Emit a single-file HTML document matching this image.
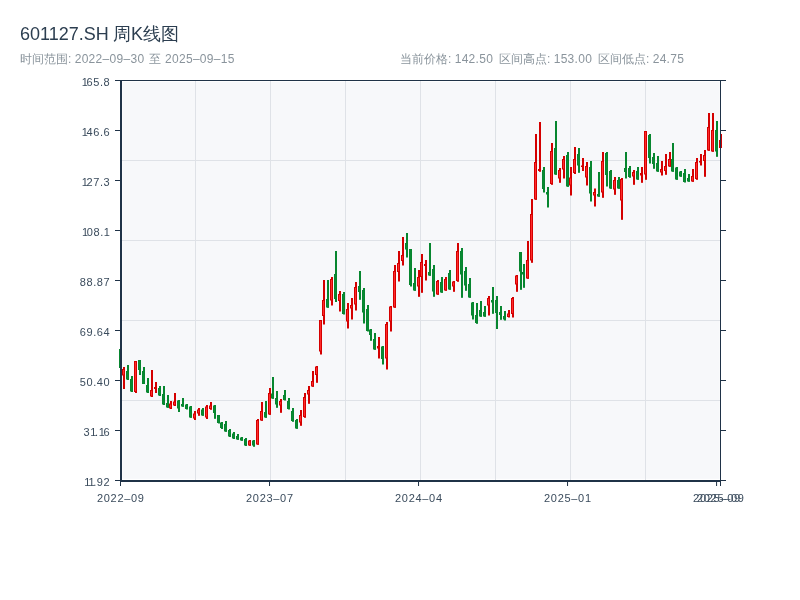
<!DOCTYPE html>
<html><head><meta charset="utf-8">
<style>
html,body{margin:0;padding:0;background:#ffffff;width:800px;height:600px;overflow:hidden;}
body{position:relative;font-family:"Liberation Sans",sans-serif;}
.t{position:absolute;white-space:nowrap;will-change:transform;}
.tt{font-size:18px;color:#2c3e50;line-height:22px;}
.st{font-size:12px;color:#8a949c;line-height:15px;}
.n{letter-spacing:0.3px;}
svg{position:absolute;left:0;top:0;will-change:transform;}
.tl{font-family:"Liberation Sans",sans-serif;font-size:11px;fill:#3a4b5c;}
</style></head><body>
<div class="t tt" style="left:20px;top:22.7px">601127.SH</div>
<div class="t tt" style="left:112.5px;top:22.7px">周K线图</div>
<div class="t st" style="left:20px;top:52px">时间范围: <span class="n">2022–09–30</span></div>
<div class="t st" style="left:149px;top:52px">至</div>
<div class="t st" style="left:165px;top:52px"><span class="n">2025–09–15</span></div>
<div class="t st" style="left:400px;top:52px">当前价格: <span class="n">142.50</span></div>
<div class="t st" style="left:499px;top:52px">区间高点: <span class="n">153.00</span></div>
<div class="t st" style="left:598px;top:52px">区间低点: <span class="n">24.75</span></div>
<svg width="800" height="600" viewBox="0 0 800 600">
<rect x="122.5" y="81.8" width="597.2" height="397" fill="#f7f8fa"/>
<line x1="195.5" y1="81" x2="195.5" y2="480" stroke="#dfe2e7" stroke-width="1"/>
<line x1="270.5" y1="81" x2="270.5" y2="480" stroke="#dfe2e7" stroke-width="1"/>
<line x1="345.5" y1="81" x2="345.5" y2="480" stroke="#dfe2e7" stroke-width="1"/>
<line x1="420.5" y1="81" x2="420.5" y2="480" stroke="#dfe2e7" stroke-width="1"/>
<line x1="495.5" y1="81" x2="495.5" y2="480" stroke="#dfe2e7" stroke-width="1"/>
<line x1="570.5" y1="81" x2="570.5" y2="480" stroke="#dfe2e7" stroke-width="1"/>
<line x1="645.5" y1="81" x2="645.5" y2="480" stroke="#dfe2e7" stroke-width="1"/>
<line x1="121" y1="160.5" x2="720" y2="160.5" stroke="#dfe2e7" stroke-width="1"/>
<line x1="121" y1="240.5" x2="720" y2="240.5" stroke="#dfe2e7" stroke-width="1"/>
<line x1="121" y1="320.5" x2="720" y2="320.5" stroke="#dfe2e7" stroke-width="1"/>
<line x1="121" y1="400.5" x2="720" y2="400.5" stroke="#dfe2e7" stroke-width="1"/>
<rect x="120" y="349.0" width="2" height="19.00" fill="#07862f"/>
<rect x="119" y="349.0" width="3" height="19.00" fill="#07862f"/>
<rect x="120" y="350.0" width="1" height="17.00" fill="#0a8a33"/>
<rect x="123" y="367.0" width="2" height="22.00" fill="#d40000"/>
<rect x="122" y="369.0" width="3" height="6.50" fill="#d40000"/>
<rect x="123" y="370.0" width="1" height="4.50" fill="#ff2b2b"/>
<rect x="127" y="365.0" width="2" height="15.00" fill="#07862f"/>
<rect x="126" y="371.0" width="3" height="8.50" fill="#07862f"/>
<rect x="127" y="372.0" width="1" height="6.50" fill="#0a8a33"/>
<rect x="131" y="376.0" width="2" height="16.00" fill="#07862f"/>
<rect x="130" y="379.0" width="3" height="12.50" fill="#07862f"/>
<rect x="131" y="380.0" width="1" height="10.50" fill="#0a8a33"/>
<rect x="135" y="361.0" width="2" height="32.00" fill="#d40000"/>
<rect x="134" y="361.0" width="3" height="31.00" fill="#d40000"/>
<rect x="135" y="362.0" width="1" height="29.00" fill="#ff2b2b"/>
<rect x="139" y="360.0" width="2" height="15.00" fill="#07862f"/>
<rect x="138" y="360.0" width="3" height="10.00" fill="#07862f"/>
<rect x="139" y="361.0" width="1" height="8.00" fill="#0a8a33"/>
<rect x="143" y="367.0" width="2" height="17.00" fill="#07862f"/>
<rect x="142" y="371.0" width="3" height="13.00" fill="#07862f"/>
<rect x="143" y="372.0" width="1" height="11.00" fill="#0a8a33"/>
<rect x="147" y="378.0" width="2" height="15.00" fill="#07862f"/>
<rect x="146" y="385.0" width="3" height="7.50" fill="#07862f"/>
<rect x="147" y="386.0" width="1" height="5.50" fill="#0a8a33"/>
<rect x="151" y="370.0" width="2" height="27.00" fill="#d40000"/>
<rect x="150" y="390.0" width="3" height="6.50" fill="#d40000"/>
<rect x="151" y="391.0" width="1" height="4.50" fill="#ff2b2b"/>
<rect x="155" y="382.0" width="2" height="11.00" fill="#d40000"/>
<rect x="154" y="387.0" width="3" height="2.00" fill="#d40000"/>
<rect x="159" y="386.0" width="2" height="10.00" fill="#07862f"/>
<rect x="158" y="388.0" width="3" height="7.50" fill="#07862f"/>
<rect x="159" y="389.0" width="1" height="5.50" fill="#0a8a33"/>
<rect x="163" y="386.0" width="2" height="19.00" fill="#07862f"/>
<rect x="162" y="394.0" width="3" height="10.50" fill="#07862f"/>
<rect x="163" y="395.0" width="1" height="8.50" fill="#0a8a33"/>
<rect x="167" y="395.0" width="2" height="12.80" fill="#07862f"/>
<rect x="166" y="403.0" width="3" height="4.50" fill="#07862f"/>
<rect x="167" y="404.0" width="1" height="2.50" fill="#0a8a33"/>
<rect x="170" y="401.0" width="2" height="8.00" fill="#d40000"/>
<rect x="169" y="403.5" width="3" height="5.00" fill="#d40000"/>
<rect x="170" y="404.5" width="1" height="3.00" fill="#ff2b2b"/>
<rect x="174" y="393.0" width="2" height="13.00" fill="#d40000"/>
<rect x="173" y="401.5" width="3" height="4.00" fill="#d40000"/>
<rect x="174" y="402.5" width="1" height="2.00" fill="#ff2b2b"/>
<rect x="178" y="400.0" width="2" height="12.00" fill="#07862f"/>
<rect x="177" y="400.5" width="3" height="8.00" fill="#07862f"/>
<rect x="178" y="401.5" width="1" height="6.00" fill="#0a8a33"/>
<rect x="182" y="398.0" width="2" height="8.80" fill="#07862f"/>
<rect x="181" y="404.0" width="3" height="2.50" fill="#07862f"/>
<rect x="186" y="404.0" width="2" height="5.50" fill="#07862f"/>
<rect x="185" y="404.5" width="3" height="4.50" fill="#07862f"/>
<rect x="186" y="405.5" width="1" height="2.50" fill="#0a8a33"/>
<rect x="190" y="406.0" width="2" height="11.80" fill="#07862f"/>
<rect x="189" y="406.5" width="3" height="11.00" fill="#07862f"/>
<rect x="190" y="407.5" width="1" height="9.00" fill="#0a8a33"/>
<rect x="194" y="411.0" width="2" height="9.00" fill="#d40000"/>
<rect x="193" y="413.5" width="3" height="5.00" fill="#d40000"/>
<rect x="194" y="414.5" width="1" height="3.00" fill="#ff2b2b"/>
<rect x="198" y="408.0" width="2" height="7.80" fill="#d40000"/>
<rect x="197" y="409.5" width="3" height="4.00" fill="#d40000"/>
<rect x="198" y="410.5" width="1" height="2.00" fill="#ff2b2b"/>
<rect x="202" y="408.0" width="2" height="7.80" fill="#07862f"/>
<rect x="201" y="409.5" width="3" height="6.00" fill="#07862f"/>
<rect x="202" y="410.5" width="1" height="4.00" fill="#0a8a33"/>
<rect x="206" y="405.0" width="2" height="14.00" fill="#d40000"/>
<rect x="205" y="406.5" width="3" height="11.00" fill="#d40000"/>
<rect x="206" y="407.5" width="1" height="9.00" fill="#ff2b2b"/>
<rect x="210" y="402.0" width="2" height="7.80" fill="#d40000"/>
<rect x="209" y="405.5" width="3" height="3.50" fill="#d40000"/>
<rect x="210" y="406.5" width="1" height="1.50" fill="#ff2b2b"/>
<rect x="214" y="405.0" width="2" height="13.80" fill="#07862f"/>
<rect x="213" y="405.5" width="3" height="7.50" fill="#07862f"/>
<rect x="214" y="406.5" width="1" height="5.50" fill="#0a8a33"/>
<rect x="218" y="415.0" width="2" height="8.50" fill="#07862f"/>
<rect x="217" y="415.0" width="3" height="8.00" fill="#07862f"/>
<rect x="218" y="416.0" width="1" height="6.00" fill="#0a8a33"/>
<rect x="221" y="422.0" width="2" height="7.00" fill="#07862f"/>
<rect x="220" y="422.5" width="3" height="5.50" fill="#07862f"/>
<rect x="221" y="423.5" width="1" height="3.50" fill="#0a8a33"/>
<rect x="225" y="421.0" width="2" height="10.80" fill="#07862f"/>
<rect x="224" y="424.0" width="3" height="7.50" fill="#07862f"/>
<rect x="225" y="425.0" width="1" height="5.50" fill="#0a8a33"/>
<rect x="229" y="429.0" width="2" height="8.00" fill="#07862f"/>
<rect x="228" y="430.0" width="3" height="6.50" fill="#07862f"/>
<rect x="229" y="431.0" width="1" height="4.50" fill="#0a8a33"/>
<rect x="233" y="432.0" width="2" height="7.00" fill="#07862f"/>
<rect x="232" y="433.5" width="3" height="5.00" fill="#07862f"/>
<rect x="233" y="434.5" width="1" height="3.00" fill="#0a8a33"/>
<rect x="237" y="434.0" width="2" height="5.80" fill="#07862f"/>
<rect x="236" y="436.0" width="3" height="3.50" fill="#07862f"/>
<rect x="237" y="437.0" width="1" height="1.50" fill="#0a8a33"/>
<rect x="241" y="437.0" width="2" height="3.80" fill="#07862f"/>
<rect x="240" y="437.5" width="3" height="3.00" fill="#07862f"/>
<rect x="241" y="438.5" width="1" height="1.00" fill="#0a8a33"/>
<rect x="245" y="438.0" width="2" height="8.00" fill="#07862f"/>
<rect x="244" y="439.0" width="3" height="6.50" fill="#07862f"/>
<rect x="245" y="440.0" width="1" height="4.50" fill="#0a8a33"/>
<rect x="249" y="440.0" width="2" height="5.80" fill="#d40000"/>
<rect x="248" y="440.5" width="3" height="5.00" fill="#d40000"/>
<rect x="249" y="441.5" width="1" height="3.00" fill="#ff2b2b"/>
<rect x="253" y="440.0" width="2" height="6.80" fill="#07862f"/>
<rect x="252" y="440.5" width="3" height="5.00" fill="#07862f"/>
<rect x="253" y="441.5" width="1" height="3.00" fill="#0a8a33"/>
<rect x="257" y="419.0" width="2" height="25.80" fill="#d40000"/>
<rect x="256" y="420.0" width="3" height="24.50" fill="#d40000"/>
<rect x="257" y="421.0" width="1" height="22.50" fill="#ff2b2b"/>
<rect x="261" y="402.0" width="2" height="18.80" fill="#d40000"/>
<rect x="260" y="411.0" width="3" height="9.50" fill="#d40000"/>
<rect x="261" y="412.0" width="1" height="7.50" fill="#ff2b2b"/>
<rect x="265" y="401.0" width="2" height="16.80" fill="#07862f"/>
<rect x="264" y="412.0" width="3" height="5.50" fill="#07862f"/>
<rect x="265" y="413.0" width="1" height="3.50" fill="#0a8a33"/>
<rect x="269" y="388.0" width="2" height="26.80" fill="#d40000"/>
<rect x="268" y="393.0" width="3" height="21.50" fill="#d40000"/>
<rect x="269" y="394.0" width="1" height="19.50" fill="#ff2b2b"/>
<rect x="272" y="377.0" width="2" height="21.80" fill="#07862f"/>
<rect x="271" y="393.5" width="3" height="5.00" fill="#07862f"/>
<rect x="272" y="394.5" width="1" height="3.00" fill="#0a8a33"/>
<rect x="276" y="391.0" width="2" height="16.80" fill="#07862f"/>
<rect x="275" y="398.0" width="3" height="6.50" fill="#07862f"/>
<rect x="276" y="399.0" width="1" height="4.50" fill="#0a8a33"/>
<rect x="280" y="399.0" width="2" height="13.80" fill="#d40000"/>
<rect x="279" y="401.0" width="3" height="4.50" fill="#d40000"/>
<rect x="280" y="402.0" width="1" height="2.50" fill="#ff2b2b"/>
<rect x="284" y="390.0" width="2" height="10.50" fill="#07862f"/>
<rect x="283" y="395.0" width="3" height="5.00" fill="#07862f"/>
<rect x="284" y="396.0" width="1" height="3.00" fill="#0a8a33"/>
<rect x="288" y="398.0" width="2" height="11.50" fill="#07862f"/>
<rect x="287" y="401.0" width="3" height="8.00" fill="#07862f"/>
<rect x="288" y="402.0" width="1" height="6.00" fill="#0a8a33"/>
<rect x="292" y="408.0" width="2" height="13.80" fill="#07862f"/>
<rect x="291" y="411.0" width="3" height="10.00" fill="#07862f"/>
<rect x="292" y="412.0" width="1" height="8.00" fill="#0a8a33"/>
<rect x="296" y="419.0" width="2" height="9.80" fill="#07862f"/>
<rect x="295" y="420.0" width="3" height="8.50" fill="#07862f"/>
<rect x="296" y="421.0" width="1" height="6.50" fill="#0a8a33"/>
<rect x="300" y="410.0" width="2" height="15.80" fill="#d40000"/>
<rect x="299" y="415.0" width="3" height="7.50" fill="#d40000"/>
<rect x="300" y="416.0" width="1" height="5.50" fill="#ff2b2b"/>
<rect x="304" y="393.0" width="2" height="24.80" fill="#d40000"/>
<rect x="303" y="397.0" width="3" height="20.00" fill="#d40000"/>
<rect x="304" y="398.0" width="1" height="18.00" fill="#ff2b2b"/>
<rect x="308" y="386.0" width="2" height="17.80" fill="#d40000"/>
<rect x="307" y="390.0" width="3" height="4.50" fill="#d40000"/>
<rect x="308" y="391.0" width="1" height="2.50" fill="#ff2b2b"/>
<rect x="312" y="371.0" width="2" height="15.80" fill="#d40000"/>
<rect x="311" y="381.0" width="3" height="5.50" fill="#d40000"/>
<rect x="312" y="382.0" width="1" height="3.50" fill="#ff2b2b"/>
<rect x="316" y="366.0" width="2" height="16.80" fill="#d40000"/>
<rect x="315" y="366.5" width="3" height="8.50" fill="#d40000"/>
<rect x="316" y="367.5" width="1" height="6.50" fill="#ff2b2b"/>
<rect x="320" y="320.0" width="2" height="34.50" fill="#d40000"/>
<rect x="319" y="320.0" width="3" height="31.50" fill="#d40000"/>
<rect x="320" y="321.0" width="1" height="29.50" fill="#ff2b2b"/>
<rect x="323" y="280.0" width="2" height="44.50" fill="#d40000"/>
<rect x="322" y="300.0" width="3" height="16.00" fill="#d40000"/>
<rect x="323" y="301.0" width="1" height="14.00" fill="#ff2b2b"/>
<rect x="327" y="280.0" width="2" height="27.80" fill="#07862f"/>
<rect x="326" y="299.0" width="3" height="8.50" fill="#07862f"/>
<rect x="327" y="300.0" width="1" height="6.50" fill="#0a8a33"/>
<rect x="331" y="277.0" width="2" height="28.50" fill="#d40000"/>
<rect x="330" y="279.0" width="3" height="21.50" fill="#d40000"/>
<rect x="331" y="280.0" width="1" height="19.50" fill="#ff2b2b"/>
<rect x="335" y="251.0" width="2" height="51.00" fill="#07862f"/>
<rect x="334" y="274.0" width="3" height="25.00" fill="#07862f"/>
<rect x="335" y="275.0" width="1" height="23.00" fill="#0a8a33"/>
<rect x="339" y="291.0" width="2" height="20.50" fill="#d40000"/>
<rect x="338" y="294.0" width="3" height="7.00" fill="#d40000"/>
<rect x="339" y="295.0" width="1" height="5.00" fill="#ff2b2b"/>
<rect x="343" y="292.0" width="2" height="22.50" fill="#07862f"/>
<rect x="342" y="294.0" width="3" height="20.00" fill="#07862f"/>
<rect x="343" y="295.0" width="1" height="18.00" fill="#0a8a33"/>
<rect x="347" y="303.0" width="2" height="25.50" fill="#d40000"/>
<rect x="346" y="309.0" width="3" height="12.50" fill="#d40000"/>
<rect x="347" y="310.0" width="1" height="10.50" fill="#ff2b2b"/>
<rect x="351" y="298.0" width="2" height="21.50" fill="#d40000"/>
<rect x="350" y="305.0" width="3" height="3.50" fill="#d40000"/>
<rect x="351" y="306.0" width="1" height="1.50" fill="#ff2b2b"/>
<rect x="355" y="282.0" width="2" height="28.50" fill="#d40000"/>
<rect x="354" y="287.0" width="3" height="17.50" fill="#d40000"/>
<rect x="355" y="288.0" width="1" height="15.50" fill="#ff2b2b"/>
<rect x="359" y="271.0" width="2" height="28.80" fill="#07862f"/>
<rect x="358" y="286.0" width="3" height="6.00" fill="#07862f"/>
<rect x="359" y="287.0" width="1" height="4.00" fill="#0a8a33"/>
<rect x="363" y="288.0" width="2" height="35.50" fill="#07862f"/>
<rect x="362" y="290.0" width="3" height="22.50" fill="#07862f"/>
<rect x="363" y="291.0" width="1" height="20.50" fill="#0a8a33"/>
<rect x="367" y="305.0" width="2" height="26.50" fill="#07862f"/>
<rect x="366" y="309.0" width="3" height="22.00" fill="#07862f"/>
<rect x="367" y="310.0" width="1" height="20.00" fill="#0a8a33"/>
<rect x="370" y="329.0" width="2" height="11.80" fill="#07862f"/>
<rect x="369" y="329.5" width="3" height="5.50" fill="#07862f"/>
<rect x="370" y="330.5" width="1" height="3.50" fill="#0a8a33"/>
<rect x="374" y="333.0" width="2" height="16.80" fill="#07862f"/>
<rect x="373" y="339.0" width="3" height="10.50" fill="#07862f"/>
<rect x="374" y="340.0" width="1" height="8.50" fill="#0a8a33"/>
<rect x="378" y="337.0" width="2" height="21.50" fill="#d40000"/>
<rect x="377" y="346.0" width="3" height="2.50" fill="#d40000"/>
<rect x="382" y="346.0" width="2" height="18.50" fill="#07862f"/>
<rect x="381" y="346.5" width="3" height="12.50" fill="#07862f"/>
<rect x="382" y="347.5" width="1" height="10.50" fill="#0a8a33"/>
<rect x="386" y="322.0" width="2" height="47.50" fill="#d40000"/>
<rect x="385" y="324.0" width="3" height="34.50" fill="#d40000"/>
<rect x="386" y="325.0" width="1" height="32.50" fill="#ff2b2b"/>
<rect x="390" y="306.0" width="2" height="25.50" fill="#d40000"/>
<rect x="389" y="306.5" width="3" height="15.00" fill="#d40000"/>
<rect x="390" y="307.5" width="1" height="13.00" fill="#ff2b2b"/>
<rect x="394" y="265.0" width="2" height="42.80" fill="#d40000"/>
<rect x="393" y="271.0" width="3" height="36.50" fill="#d40000"/>
<rect x="394" y="272.0" width="1" height="34.50" fill="#ff2b2b"/>
<rect x="398" y="251.0" width="2" height="30.50" fill="#d40000"/>
<rect x="397" y="263.0" width="3" height="9.00" fill="#d40000"/>
<rect x="398" y="264.0" width="1" height="7.00" fill="#ff2b2b"/>
<rect x="402" y="237.0" width="2" height="28.50" fill="#d40000"/>
<rect x="401" y="255.0" width="3" height="6.00" fill="#d40000"/>
<rect x="402" y="256.0" width="1" height="4.00" fill="#ff2b2b"/>
<rect x="406" y="233.0" width="2" height="24.50" fill="#07862f"/>
<rect x="405" y="243.0" width="3" height="6.50" fill="#07862f"/>
<rect x="406" y="244.0" width="1" height="4.50" fill="#0a8a33"/>
<rect x="410" y="249.0" width="2" height="37.50" fill="#07862f"/>
<rect x="409" y="249.0" width="3" height="36.00" fill="#07862f"/>
<rect x="410" y="250.0" width="1" height="34.00" fill="#0a8a33"/>
<rect x="414" y="268.0" width="2" height="22.80" fill="#07862f"/>
<rect x="413" y="283.0" width="3" height="7.50" fill="#07862f"/>
<rect x="414" y="284.0" width="1" height="5.50" fill="#0a8a33"/>
<rect x="418" y="270.0" width="2" height="26.80" fill="#d40000"/>
<rect x="417" y="277.0" width="3" height="9.50" fill="#d40000"/>
<rect x="418" y="278.0" width="1" height="7.50" fill="#ff2b2b"/>
<rect x="421" y="254.0" width="2" height="38.80" fill="#d40000"/>
<rect x="420" y="262.0" width="3" height="15.00" fill="#d40000"/>
<rect x="421" y="263.0" width="1" height="13.00" fill="#ff2b2b"/>
<rect x="425" y="260.0" width="2" height="20.50" fill="#d40000"/>
<rect x="424" y="264.0" width="3" height="2.00" fill="#d40000"/>
<rect x="429" y="243.0" width="2" height="32.80" fill="#07862f"/>
<rect x="428" y="272.0" width="3" height="3.50" fill="#07862f"/>
<rect x="429" y="273.0" width="1" height="1.50" fill="#0a8a33"/>
<rect x="433" y="265.0" width="2" height="31.80" fill="#07862f"/>
<rect x="432" y="269.0" width="3" height="22.50" fill="#07862f"/>
<rect x="433" y="270.0" width="1" height="20.50" fill="#0a8a33"/>
<rect x="437" y="280.0" width="2" height="14.80" fill="#d40000"/>
<rect x="436" y="281.0" width="3" height="13.50" fill="#d40000"/>
<rect x="437" y="282.0" width="1" height="11.50" fill="#ff2b2b"/>
<rect x="441" y="277.0" width="2" height="15.80" fill="#07862f"/>
<rect x="440" y="282.0" width="3" height="10.50" fill="#07862f"/>
<rect x="441" y="283.0" width="1" height="8.50" fill="#0a8a33"/>
<rect x="445" y="277.0" width="2" height="13.80" fill="#d40000"/>
<rect x="444" y="279.0" width="3" height="11.50" fill="#d40000"/>
<rect x="445" y="280.0" width="1" height="9.50" fill="#ff2b2b"/>
<rect x="449" y="270.0" width="2" height="19.80" fill="#07862f"/>
<rect x="448" y="273.0" width="3" height="16.50" fill="#07862f"/>
<rect x="449" y="274.0" width="1" height="14.50" fill="#0a8a33"/>
<rect x="453" y="281.0" width="2" height="10.80" fill="#d40000"/>
<rect x="452" y="281.5" width="3" height="5.00" fill="#d40000"/>
<rect x="453" y="282.5" width="1" height="3.00" fill="#ff2b2b"/>
<rect x="457" y="243.0" width="2" height="38.80" fill="#d40000"/>
<rect x="456" y="251.0" width="3" height="30.00" fill="#d40000"/>
<rect x="457" y="252.0" width="1" height="28.00" fill="#ff2b2b"/>
<rect x="461" y="248.0" width="2" height="49.80" fill="#07862f"/>
<rect x="460" y="251.0" width="3" height="23.50" fill="#07862f"/>
<rect x="461" y="252.0" width="1" height="21.50" fill="#0a8a33"/>
<rect x="465" y="267.0" width="2" height="23.80" fill="#07862f"/>
<rect x="464" y="271.0" width="3" height="14.50" fill="#07862f"/>
<rect x="465" y="272.0" width="1" height="12.50" fill="#0a8a33"/>
<rect x="469" y="278.0" width="2" height="19.80" fill="#07862f"/>
<rect x="468" y="284.0" width="3" height="13.50" fill="#07862f"/>
<rect x="469" y="285.0" width="1" height="11.50" fill="#0a8a33"/>
<rect x="472" y="302.0" width="2" height="17.50" fill="#07862f"/>
<rect x="471" y="302.5" width="3" height="13.00" fill="#07862f"/>
<rect x="472" y="303.5" width="1" height="11.00" fill="#0a8a33"/>
<rect x="476" y="303.0" width="2" height="20.80" fill="#07862f"/>
<rect x="475" y="315.0" width="3" height="8.00" fill="#07862f"/>
<rect x="476" y="316.0" width="1" height="6.00" fill="#0a8a33"/>
<rect x="480" y="301.0" width="2" height="15.80" fill="#07862f"/>
<rect x="479" y="310.0" width="3" height="6.50" fill="#07862f"/>
<rect x="480" y="311.0" width="1" height="4.50" fill="#0a8a33"/>
<rect x="484" y="306.0" width="2" height="10.80" fill="#07862f"/>
<rect x="483" y="312.0" width="3" height="4.50" fill="#07862f"/>
<rect x="484" y="313.0" width="1" height="2.50" fill="#0a8a33"/>
<rect x="488" y="296.0" width="2" height="19.50" fill="#d40000"/>
<rect x="487" y="298.0" width="3" height="7.50" fill="#d40000"/>
<rect x="488" y="299.0" width="1" height="5.50" fill="#ff2b2b"/>
<rect x="492" y="287.0" width="2" height="26.80" fill="#07862f"/>
<rect x="491" y="300.0" width="3" height="2.50" fill="#07862f"/>
<rect x="496" y="296.0" width="2" height="33.00" fill="#07862f"/>
<rect x="495" y="300.0" width="3" height="13.00" fill="#07862f"/>
<rect x="496" y="301.0" width="1" height="11.00" fill="#0a8a33"/>
<rect x="500" y="306.0" width="2" height="13.80" fill="#07862f"/>
<rect x="499" y="312.0" width="3" height="3.00" fill="#07862f"/>
<rect x="500" y="313.0" width="1" height="1.00" fill="#0a8a33"/>
<rect x="504" y="311.0" width="2" height="9.50" fill="#07862f"/>
<rect x="503" y="316.0" width="3" height="3.50" fill="#07862f"/>
<rect x="504" y="317.0" width="1" height="1.50" fill="#0a8a33"/>
<rect x="508" y="310.0" width="2" height="7.50" fill="#d40000"/>
<rect x="507" y="313.5" width="3" height="3.50" fill="#d40000"/>
<rect x="508" y="314.5" width="1" height="1.50" fill="#ff2b2b"/>
<rect x="512" y="297.0" width="2" height="20.50" fill="#d40000"/>
<rect x="511" y="298.0" width="3" height="16.00" fill="#d40000"/>
<rect x="512" y="299.0" width="1" height="14.00" fill="#ff2b2b"/>
<rect x="516" y="275.0" width="2" height="16.80" fill="#d40000"/>
<rect x="515" y="275.5" width="3" height="9.00" fill="#d40000"/>
<rect x="516" y="276.5" width="1" height="7.00" fill="#ff2b2b"/>
<rect x="520" y="252.0" width="2" height="37.80" fill="#07862f"/>
<rect x="519" y="252.0" width="3" height="19.50" fill="#07862f"/>
<rect x="520" y="253.0" width="1" height="17.50" fill="#0a8a33"/>
<rect x="523" y="264.0" width="2" height="23.80" fill="#07862f"/>
<rect x="522" y="272.0" width="3" height="2.50" fill="#07862f"/>
<rect x="527" y="241.0" width="2" height="37.80" fill="#d40000"/>
<rect x="526" y="260.0" width="3" height="18.50" fill="#d40000"/>
<rect x="527" y="261.0" width="1" height="16.50" fill="#ff2b2b"/>
<rect x="531" y="199.0" width="2" height="63.80" fill="#d40000"/>
<rect x="530" y="214.0" width="3" height="46.50" fill="#d40000"/>
<rect x="531" y="215.0" width="1" height="44.50" fill="#ff2b2b"/>
<rect x="535" y="134.0" width="2" height="65.80" fill="#d40000"/>
<rect x="534" y="162.0" width="3" height="37.50" fill="#d40000"/>
<rect x="535" y="163.0" width="1" height="35.50" fill="#ff2b2b"/>
<rect x="539" y="122.0" width="2" height="49.80" fill="#d40000"/>
<rect x="538" y="169.0" width="3" height="2.00" fill="#d40000"/>
<rect x="543" y="167.0" width="2" height="25.50" fill="#07862f"/>
<rect x="542" y="170.0" width="3" height="19.00" fill="#07862f"/>
<rect x="543" y="171.0" width="1" height="17.00" fill="#0a8a33"/>
<rect x="547" y="187.0" width="2" height="20.50" fill="#07862f"/>
<rect x="546" y="192.0" width="3" height="2.50" fill="#07862f"/>
<rect x="551" y="143.0" width="2" height="41.80" fill="#d40000"/>
<rect x="550" y="151.0" width="3" height="33.00" fill="#d40000"/>
<rect x="551" y="152.0" width="1" height="31.00" fill="#ff2b2b"/>
<rect x="555" y="121.0" width="2" height="53.80" fill="#07862f"/>
<rect x="554" y="148.0" width="3" height="26.50" fill="#07862f"/>
<rect x="555" y="149.0" width="1" height="24.50" fill="#0a8a33"/>
<rect x="559" y="168.0" width="2" height="14.80" fill="#d40000"/>
<rect x="558" y="170.0" width="3" height="8.50" fill="#d40000"/>
<rect x="559" y="171.0" width="1" height="6.50" fill="#ff2b2b"/>
<rect x="563" y="156.0" width="2" height="22.50" fill="#d40000"/>
<rect x="562" y="159.0" width="3" height="10.50" fill="#d40000"/>
<rect x="563" y="160.0" width="1" height="8.50" fill="#ff2b2b"/>
<rect x="567" y="152.0" width="2" height="34.80" fill="#07862f"/>
<rect x="566" y="155.0" width="3" height="31.50" fill="#07862f"/>
<rect x="567" y="156.0" width="1" height="29.50" fill="#0a8a33"/>
<rect x="570" y="167.0" width="2" height="28.50" fill="#d40000"/>
<rect x="569" y="177.5" width="3" height="8.00" fill="#d40000"/>
<rect x="570" y="178.5" width="1" height="6.00" fill="#ff2b2b"/>
<rect x="574" y="147.0" width="2" height="27.00" fill="#d40000"/>
<rect x="573" y="159.0" width="3" height="14.00" fill="#d40000"/>
<rect x="574" y="160.0" width="1" height="12.00" fill="#ff2b2b"/>
<rect x="578" y="148.0" width="2" height="24.80" fill="#07862f"/>
<rect x="577" y="154.0" width="3" height="11.50" fill="#07862f"/>
<rect x="578" y="155.0" width="1" height="9.50" fill="#0a8a33"/>
<rect x="582" y="158.0" width="2" height="13.00" fill="#d40000"/>
<rect x="581" y="165.5" width="3" height="1.50" fill="#d40000"/>
<rect x="586" y="162.0" width="2" height="23.50" fill="#d40000"/>
<rect x="585" y="166.0" width="3" height="11.50" fill="#d40000"/>
<rect x="586" y="167.0" width="1" height="9.50" fill="#ff2b2b"/>
<rect x="590" y="161.0" width="2" height="40.50" fill="#07862f"/>
<rect x="589" y="167.0" width="3" height="26.50" fill="#07862f"/>
<rect x="590" y="168.0" width="1" height="24.50" fill="#0a8a33"/>
<rect x="594" y="188.5" width="2" height="18.00" fill="#d40000"/>
<rect x="593" y="192.0" width="3" height="3.50" fill="#d40000"/>
<rect x="594" y="193.0" width="1" height="1.50" fill="#ff2b2b"/>
<rect x="598" y="172.0" width="2" height="24.80" fill="#07862f"/>
<rect x="597" y="194.0" width="3" height="2.50" fill="#07862f"/>
<rect x="602" y="152.0" width="2" height="45.80" fill="#d40000"/>
<rect x="601" y="161.0" width="3" height="31.50" fill="#d40000"/>
<rect x="602" y="162.0" width="1" height="29.50" fill="#ff2b2b"/>
<rect x="606" y="152.0" width="2" height="34.50" fill="#07862f"/>
<rect x="605" y="153.0" width="3" height="22.00" fill="#07862f"/>
<rect x="606" y="154.0" width="1" height="20.00" fill="#0a8a33"/>
<rect x="610" y="170.0" width="2" height="18.80" fill="#07862f"/>
<rect x="609" y="171.0" width="3" height="17.50" fill="#07862f"/>
<rect x="610" y="172.0" width="1" height="15.50" fill="#0a8a33"/>
<rect x="614" y="177.0" width="2" height="17.80" fill="#d40000"/>
<rect x="613" y="180.0" width="3" height="9.50" fill="#d40000"/>
<rect x="614" y="181.0" width="1" height="7.50" fill="#ff2b2b"/>
<rect x="618" y="177.0" width="2" height="11.80" fill="#07862f"/>
<rect x="617" y="180.0" width="3" height="8.50" fill="#07862f"/>
<rect x="618" y="181.0" width="1" height="6.50" fill="#0a8a33"/>
<rect x="621" y="178.0" width="2" height="41.80" fill="#d40000"/>
<rect x="620" y="179.0" width="3" height="21.50" fill="#d40000"/>
<rect x="621" y="180.0" width="1" height="19.50" fill="#ff2b2b"/>
<rect x="625" y="152.0" width="2" height="26.50" fill="#07862f"/>
<rect x="624" y="168.0" width="3" height="4.00" fill="#07862f"/>
<rect x="625" y="169.0" width="1" height="2.00" fill="#0a8a33"/>
<rect x="629" y="166.0" width="2" height="11.80" fill="#07862f"/>
<rect x="628" y="168.0" width="3" height="9.00" fill="#07862f"/>
<rect x="629" y="169.0" width="1" height="7.00" fill="#0a8a33"/>
<rect x="633" y="170.0" width="2" height="14.80" fill="#d40000"/>
<rect x="632" y="172.0" width="3" height="4.50" fill="#d40000"/>
<rect x="633" y="173.0" width="1" height="2.50" fill="#ff2b2b"/>
<rect x="637" y="167.0" width="2" height="12.80" fill="#07862f"/>
<rect x="636" y="171.0" width="3" height="8.50" fill="#07862f"/>
<rect x="637" y="172.0" width="1" height="6.50" fill="#0a8a33"/>
<rect x="641" y="167.0" width="2" height="15.80" fill="#d40000"/>
<rect x="640" y="173.0" width="3" height="2.50" fill="#d40000"/>
<rect x="645" y="131.0" width="2" height="48.80" fill="#d40000"/>
<rect x="644" y="131.0" width="3" height="43.50" fill="#d40000"/>
<rect x="645" y="132.0" width="1" height="41.50" fill="#ff2b2b"/>
<rect x="649" y="134.0" width="2" height="29.50" fill="#07862f"/>
<rect x="648" y="135.0" width="3" height="23.00" fill="#07862f"/>
<rect x="649" y="136.0" width="1" height="21.00" fill="#0a8a33"/>
<rect x="653" y="153.0" width="2" height="15.80" fill="#07862f"/>
<rect x="652" y="157.0" width="3" height="7.00" fill="#07862f"/>
<rect x="653" y="158.0" width="1" height="5.00" fill="#0a8a33"/>
<rect x="657" y="156.0" width="2" height="15.80" fill="#07862f"/>
<rect x="656" y="163.0" width="3" height="8.50" fill="#07862f"/>
<rect x="657" y="164.0" width="1" height="6.50" fill="#0a8a33"/>
<rect x="661" y="161.0" width="2" height="14.50" fill="#d40000"/>
<rect x="660" y="169.0" width="3" height="3.50" fill="#d40000"/>
<rect x="661" y="170.0" width="1" height="1.50" fill="#ff2b2b"/>
<rect x="665" y="154.0" width="2" height="20.80" fill="#d40000"/>
<rect x="664" y="166.0" width="3" height="5.00" fill="#d40000"/>
<rect x="665" y="167.0" width="1" height="3.00" fill="#ff2b2b"/>
<rect x="669" y="152.0" width="2" height="14.80" fill="#d40000"/>
<rect x="668" y="159.0" width="3" height="7.50" fill="#d40000"/>
<rect x="669" y="160.0" width="1" height="5.50" fill="#ff2b2b"/>
<rect x="672" y="143.0" width="2" height="28.80" fill="#07862f"/>
<rect x="671" y="159.0" width="3" height="12.50" fill="#07862f"/>
<rect x="672" y="160.0" width="1" height="10.50" fill="#0a8a33"/>
<rect x="676" y="167.0" width="2" height="12.80" fill="#07862f"/>
<rect x="675" y="167.5" width="3" height="12.00" fill="#07862f"/>
<rect x="676" y="168.5" width="1" height="10.00" fill="#0a8a33"/>
<rect x="680" y="171.0" width="2" height="5.80" fill="#07862f"/>
<rect x="679" y="171.5" width="3" height="5.00" fill="#07862f"/>
<rect x="680" y="172.5" width="1" height="3.00" fill="#0a8a33"/>
<rect x="684" y="169.0" width="2" height="13.50" fill="#07862f"/>
<rect x="683" y="173.0" width="3" height="9.00" fill="#07862f"/>
<rect x="684" y="174.0" width="1" height="7.00" fill="#0a8a33"/>
<rect x="688" y="174.0" width="2" height="7.80" fill="#07862f"/>
<rect x="687" y="178.0" width="3" height="3.50" fill="#07862f"/>
<rect x="688" y="179.0" width="1" height="1.50" fill="#0a8a33"/>
<rect x="692" y="169.0" width="2" height="12.80" fill="#d40000"/>
<rect x="691" y="176.0" width="3" height="5.50" fill="#d40000"/>
<rect x="692" y="177.0" width="1" height="3.50" fill="#ff2b2b"/>
<rect x="696" y="158.0" width="2" height="21.80" fill="#d40000"/>
<rect x="695" y="162.0" width="3" height="17.00" fill="#d40000"/>
<rect x="696" y="163.0" width="1" height="15.00" fill="#ff2b2b"/>
<rect x="700" y="154.0" width="2" height="11.50" fill="#d40000"/>
<rect x="699" y="161.0" width="3" height="1.50" fill="#d40000"/>
<rect x="704" y="150.0" width="2" height="26.80" fill="#d40000"/>
<rect x="703" y="155.0" width="3" height="6.00" fill="#d40000"/>
<rect x="704" y="156.0" width="1" height="4.00" fill="#ff2b2b"/>
<rect x="708" y="113.0" width="2" height="37.80" fill="#d40000"/>
<rect x="707" y="127.0" width="3" height="23.50" fill="#d40000"/>
<rect x="708" y="128.0" width="1" height="21.50" fill="#ff2b2b"/>
<rect x="712" y="113.0" width="2" height="38.80" fill="#d40000"/>
<rect x="711" y="130.0" width="3" height="21.50" fill="#d40000"/>
<rect x="712" y="131.0" width="1" height="19.50" fill="#ff2b2b"/>
<rect x="716" y="121.0" width="2" height="35.80" fill="#07862f"/>
<rect x="715" y="130.0" width="3" height="21.50" fill="#07862f"/>
<rect x="716" y="131.0" width="1" height="19.50" fill="#0a8a33"/>
<rect x="720" y="134.0" width="2" height="14.00" fill="#d40000"/>
<rect x="719" y="140.0" width="3" height="8.00" fill="#d40000"/>
<rect x="720" y="141.0" width="1" height="6.00" fill="#ff2b2b"/>
<line x1="121" y1="80.5" x2="720.5" y2="80.5" stroke="#1f3247" stroke-width="1"/>
<line x1="720.5" y1="80" x2="720.5" y2="481" stroke="#1f3247" stroke-width="1"/>
<line x1="121" y1="80" x2="121" y2="482" stroke="#1f3247" stroke-width="2"/>
<line x1="120" y1="481" x2="721" y2="481" stroke="#1f3247" stroke-width="2"/>
<line x1="115" y1="80.5" x2="121" y2="80.5" stroke="#1f3247" stroke-width="1"/>
<line x1="720.5" y1="80.5" x2="726" y2="80.5" stroke="#1f3247" stroke-width="1"/>
<text x="110.3" y="86.4" text-anchor="end" class="tl" letter-spacing="0.6"><tspan letter-spacing="-1.3">1</tspan>65.8</text>
<line x1="115" y1="130.5" x2="121" y2="130.5" stroke="#1f3247" stroke-width="1"/>
<line x1="720.5" y1="130.5" x2="726" y2="130.5" stroke="#1f3247" stroke-width="1"/>
<text x="110.3" y="136.4" text-anchor="end" class="tl" letter-spacing="0.6"><tspan letter-spacing="-1.3">1</tspan>46.6</text>
<line x1="115" y1="180.5" x2="121" y2="180.5" stroke="#1f3247" stroke-width="1"/>
<line x1="720.5" y1="180.5" x2="726" y2="180.5" stroke="#1f3247" stroke-width="1"/>
<text x="110.3" y="186.4" text-anchor="end" class="tl" letter-spacing="0.6"><tspan letter-spacing="-1.3">1</tspan>27.3</text>
<line x1="115" y1="230.5" x2="121" y2="230.5" stroke="#1f3247" stroke-width="1"/>
<line x1="720.5" y1="230.5" x2="726" y2="230.5" stroke="#1f3247" stroke-width="1"/>
<text x="108.7" y="236.4" text-anchor="end" class="tl" letter-spacing="0.6"><tspan letter-spacing="-1.3">1</tspan>08.<tspan letter-spacing="-1.3">1</tspan></text>
<line x1="115" y1="280.5" x2="121" y2="280.5" stroke="#1f3247" stroke-width="1"/>
<line x1="720.5" y1="280.5" x2="726" y2="280.5" stroke="#1f3247" stroke-width="1"/>
<text x="110.3" y="286.4" text-anchor="end" class="tl" letter-spacing="0.6">88.87</text>
<line x1="115" y1="330.5" x2="121" y2="330.5" stroke="#1f3247" stroke-width="1"/>
<line x1="720.5" y1="330.5" x2="726" y2="330.5" stroke="#1f3247" stroke-width="1"/>
<text x="110.3" y="336.4" text-anchor="end" class="tl" letter-spacing="0.6">69.64</text>
<line x1="115" y1="380.5" x2="121" y2="380.5" stroke="#1f3247" stroke-width="1"/>
<line x1="720.5" y1="380.5" x2="726" y2="380.5" stroke="#1f3247" stroke-width="1"/>
<text x="110.3" y="386.4" text-anchor="end" class="tl" letter-spacing="0.6">50.40</text>
<line x1="115" y1="430.5" x2="121" y2="430.5" stroke="#1f3247" stroke-width="1"/>
<line x1="720.5" y1="430.5" x2="726" y2="430.5" stroke="#1f3247" stroke-width="1"/>
<text x="110.3" y="436.4" text-anchor="end" class="tl" letter-spacing="0.6">3<tspan letter-spacing="-1.3">1</tspan>.<tspan letter-spacing="-1.3">1</tspan>6</text>
<line x1="115" y1="480.5" x2="121" y2="480.5" stroke="#1f3247" stroke-width="1"/>
<line x1="720.5" y1="480.5" x2="726" y2="480.5" stroke="#1f3247" stroke-width="1"/>
<text x="110.3" y="486.4" text-anchor="end" class="tl" letter-spacing="0.6"><tspan letter-spacing="-1.3">1</tspan><tspan letter-spacing="-1.3">1</tspan>.92</text>
<line x1="120.50" y1="481" x2="120.50" y2="486" stroke="#1f3247" stroke-width="1"/>
<text x="120.85" y="502" text-anchor="middle" class="tl" letter-spacing="0.7">2022–09</text>
<line x1="269.52" y1="481" x2="269.52" y2="486" stroke="#1f3247" stroke-width="1"/>
<text x="269.87" y="502" text-anchor="middle" class="tl" letter-spacing="0.7">2023–07</text>
<line x1="418.54" y1="481" x2="418.54" y2="486" stroke="#1f3247" stroke-width="1"/>
<text x="418.89" y="502" text-anchor="middle" class="tl" letter-spacing="0.7">2024–04</text>
<line x1="567.56" y1="481" x2="567.56" y2="486" stroke="#1f3247" stroke-width="1"/>
<text x="567.91" y="502" text-anchor="middle" class="tl" letter-spacing="0.7">2025–01</text>
<line x1="716.58" y1="481" x2="716.58" y2="486" stroke="#1f3247" stroke-width="1"/>
<text x="716.93" y="502" text-anchor="middle" class="tl" letter-spacing="0.7">2025–09</text>
<line x1="720.50" y1="481" x2="720.50" y2="486" stroke="#1f3247" stroke-width="1"/>
<text x="720.85" y="502" text-anchor="middle" class="tl" letter-spacing="0.7">2025–09</text>
</svg>
</body></html>
